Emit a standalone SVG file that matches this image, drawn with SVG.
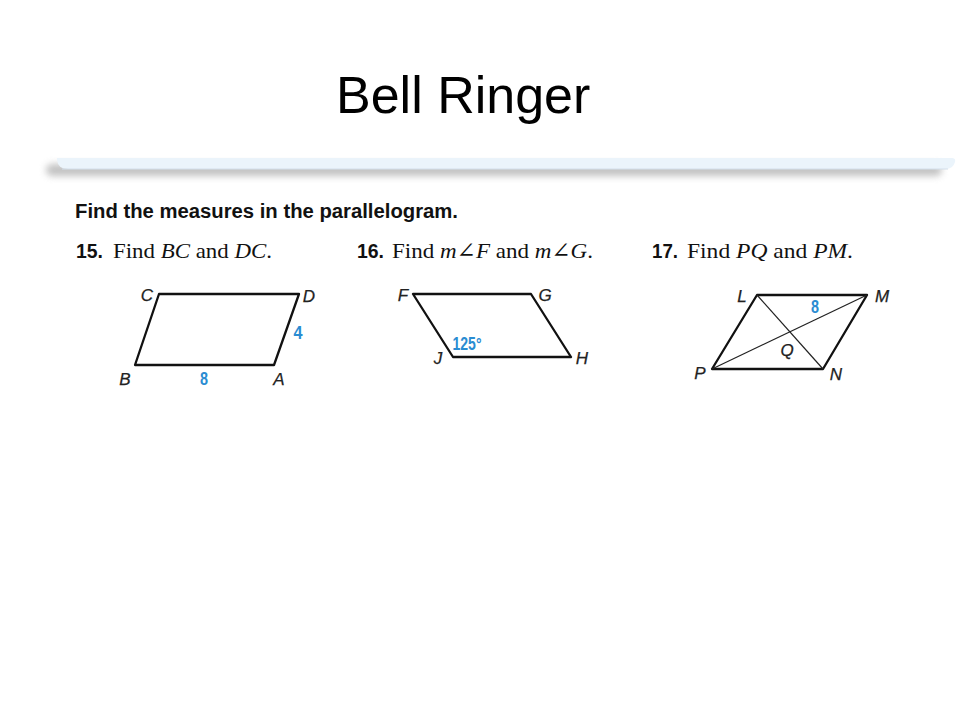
<svg xmlns="http://www.w3.org/2000/svg" width="960" height="720" viewBox="0 0 960 720">
<defs>
<filter id="blur" x="-5%" y="-100%" width="110%" height="300%"><feGaussianBlur stdDeviation="3.5"/></filter>
<style>
.title{font-family:"Liberation Sans",Arial,sans-serif;font-size:52px;fill:#000}
.sub{font-family:"Liberation Sans",Arial,sans-serif;font-weight:bold;font-size:20px;fill:#111}
.num{font-family:"Liberation Sans",Arial,sans-serif;font-weight:bold;font-size:20px;fill:#111}
.q{font-family:"Liberation Serif","Times New Roman","DejaVu Serif",serif;font-size:22px;fill:#111}
.it{font-style:italic}
.lbl{font-family:"Liberation Sans",Arial,sans-serif;font-style:italic;font-size:17px;fill:#222;text-anchor:middle;stroke:#222;stroke-width:0.25}
.val{font-family:"Liberation Sans",Arial,sans-serif;font-weight:bold;font-size:18px;fill:#2A8CD2;text-anchor:middle}
.side{fill:none;stroke:#111;stroke-width:2.3;stroke-linejoin:round}
.diag{fill:none;stroke:#222;stroke-width:1.2}
</style>
</defs>
<rect width="960" height="720" fill="#fff"/>
<text class="title" x="336" y="113">Bell Ringer</text>
<g id="band">
<rect x="46" y="164" width="896" height="12" rx="6" fill="#9a9a9a" opacity="0.6" filter="url(#blur)"/>
<path d="M57,158 H952 Q956,158 955,162 Q953,169 946,169 H68 Q58,169 57,160 Z" fill="#EBF4FB"/>
<path d="M62,169 H948" stroke="#D3DFEA" stroke-width="1"/>
</g>
<text class="sub" x="75" y="218" textLength="383" lengthAdjust="spacingAndGlyphs">Find the measures in the parallelogram.</text>
<g id="q15">
<text class="num" x="76" y="258" textLength="27" lengthAdjust="spacingAndGlyphs">15.</text>
<text class="q" x="113" y="258" textLength="159" lengthAdjust="spacingAndGlyphs">Find <tspan class="it">BC</tspan> and <tspan class="it">DC</tspan>.</text>
</g>
<g id="q16">
<text class="num" x="357" y="258" textLength="27" lengthAdjust="spacingAndGlyphs">16.</text>
<text class="q" x="392" y="258" textLength="201" lengthAdjust="spacingAndGlyphs">Find <tspan class="it">m</tspan>∠<tspan class="it">F</tspan> and <tspan class="it">m</tspan>∠<tspan class="it">G</tspan>.</text>
</g>
<g id="q17">
<text class="num" x="652" y="258" textLength="26" lengthAdjust="spacingAndGlyphs">17.</text>
<text class="q" x="687" y="258" textLength="166" lengthAdjust="spacingAndGlyphs">Find <tspan class="it">PQ</tspan> and <tspan class="it">PM</tspan>.</text>
</g>
<g id="fig15">
<polygon class="side" points="159,294 299,294 274,365 135,365"/>
<text class="lbl" x="147" y="301">C</text>
<text class="lbl" x="309" y="302">D</text>
<text class="lbl" x="125" y="385">B</text>
<text class="lbl" x="279" y="385">A</text>
<text class="val" x="204" y="385" textLength="8" lengthAdjust="spacingAndGlyphs">8</text>
<text class="val" x="298" y="339" textLength="9" lengthAdjust="spacingAndGlyphs">4</text>
</g>
<g id="fig16">
<polygon class="side" points="413,294 531,294 571,357 453,357"/>
<text class="lbl" x="403" y="301">F</text>
<text class="lbl" x="545" y="301">G</text>
<text class="lbl" x="438" y="364">J</text>
<text class="lbl" x="582" y="364">H</text>
<text class="val" x="467" y="350" textLength="29" lengthAdjust="spacingAndGlyphs">125°</text>
</g>
<g id="fig17">
<polygon class="side" points="757,295 867,295 823,369 712,369"/>
<text class="lbl" x="742" y="302">L</text>
<text class="lbl" x="882" y="302">M</text>
<text class="lbl" x="700" y="379">P</text>
<text class="lbl" x="836" y="380">N</text>
<text class="lbl" x="787" y="356">Q</text>
<text class="val" x="815" y="313" textLength="8" lengthAdjust="spacingAndGlyphs">8</text>
</g>
<g id="connectors">
<line class="diag" x1="757" y1="295" x2="823" y2="369"/>
<line class="diag" x1="712" y1="369" x2="867" y2="295"/>
</g>
</svg>
